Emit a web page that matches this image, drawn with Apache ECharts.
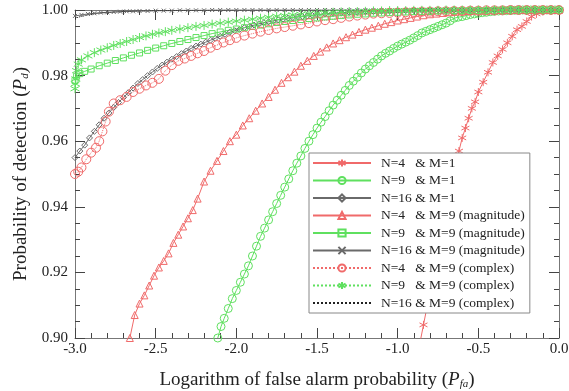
<!DOCTYPE html>
<html>
<head>
<meta charset="utf-8">
<script src="https://cdn.jsdelivr.net/npm/echarts@6/dist/echarts.min.js"></script>
<style>
html, body { margin: 0; padding: 0; background: #fff; }
#main { width: 569px; height: 391px; }
</style>
</head>
<body>
<div id="main"></div>
<script>
// x = log10(Pfa), y = Pd
var xTicks = [-3.0, -2.5, -2.0, -1.5, -1.0, -0.5, 0.0];
var yTicks = [0.90, 0.92, 0.94, 0.96, 0.98, 1.00];

var seriesNames = [
    'N=4   & M=1',
    'N=9   & M=1',
    'N=16 & M=1',
    'N=4   & M=9 (magnitude)',
    'N=9   & M=9 (magnitude)',
    'N=16 & M=9 (magnitude)',
    'N=4   & M=9 (complex)',
    'N=9   & M=9 (complex)',
    'N=16 & M=9 (complex)'
];

var n4m1 = [[-0.86,0.899],[-0.84,0.904],[-0.82,0.909],[-0.80,0.914],[-0.78,0.919],[-0.76,0.924],[-0.74,0.929],[-0.72,0.934],[-0.70,0.939],[-0.68,0.944],[-0.66,0.949],[-0.64,0.953],[-0.62,0.957],[-0.60,0.961],[-0.58,0.964],[-0.56,0.967],[-0.54,0.970],[-0.52,0.972],[-0.50,0.975],[-0.47,0.978],[-0.44,0.981],[-0.41,0.984],[-0.38,0.986],[-0.35,0.988],[-0.32,0.990],[-0.29,0.992],[-0.26,0.994],[-0.23,0.995],[-0.20,0.9965],[-0.17,0.998],[-0.14,0.9988],[-0.10,0.9995],[-0.05,0.9999],[0.0,1.0]];

var n9m1 = [[-2.115,0.900],[-2.095,0.9035],[-2.075,0.906],[-2.05,0.909],[-2.025,0.912],[-2.00,0.9145],[-1.975,0.917],[-1.95,0.9195],[-1.925,0.922],[-1.90,0.925],[-1.875,0.928],[-1.85,0.931],[-1.825,0.9335],[-1.80,0.936],[-1.775,0.9385],[-1.75,0.941],[-1.725,0.9435],[-1.70,0.946],[-1.675,0.9485],[-1.65,0.951],[-1.625,0.9533],[-1.60,0.9555],[-1.575,0.9578],[-1.55,0.960],[-1.525,0.962],[-1.50,0.964],[-1.475,0.9658],[-1.45,0.9675],[-1.425,0.9693],[-1.40,0.971],[-1.375,0.9725],[-1.35,0.974],[-1.325,0.9755],[-1.30,0.977],[-1.275,0.9783],[-1.25,0.9795],[-1.225,0.9808],[-1.20,0.982],[-1.175,0.983],[-1.15,0.984],[-1.125,0.985],[-1.10,0.986],[-1.075,0.9868],[-1.05,0.9875],[-1.025,0.9883],[-1.00,0.989],[-0.975,0.9896],[-0.95,0.9902],[-0.925,0.9908],[-0.90,0.9915],[-0.875,0.9922],[-0.85,0.993],[-0.825,0.9935],[-0.80,0.994],[-0.775,0.9945],[-0.75,0.995],[-0.725,0.9955],[-0.70,0.996],[-0.675,0.9967],[-0.65,0.9975],[-0.625,0.9978],[-0.60,0.998],[-0.575,0.9983],[-0.55,0.9986],[-0.525,0.9988],[-0.50,0.999],[-0.475,0.9992],[-0.45,0.9993],[-0.425,0.9995],[-0.40,0.9996],[-0.375,0.9997],[-0.35,0.9998],[-0.325,0.9998],[-0.30,0.9999],[-0.275,0.9999],[-0.25,0.9999],[-0.225,1.0],[-0.20,1.0],[-0.175,1.0],[-0.15,1.0],[-0.125,1.0],[-0.10,1.0],[-0.075,1.0],[-0.05,1.0],[-0.025,1.0],[0.0,1.0]];

var n16m1 = [[-3.00,0.955],[-2.97,0.957],[-2.94,0.9588],[-2.91,0.961],[-2.88,0.963],[-2.85,0.965],[-2.82,0.967],[-2.79,0.9686],[-2.76,0.9703],[-2.73,0.9718],[-2.70,0.9733],[-2.67,0.9748],[-2.64,0.9762],[-2.61,0.9776],[-2.58,0.9788],[-2.55,0.980],[-2.52,0.9811],[-2.49,0.9822],[-2.46,0.9832],[-2.43,0.9841],[-2.40,0.985],[-2.37,0.9858],[-2.34,0.9867],[-2.31,0.9875],[-2.28,0.9883],[-2.25,0.989],[-2.22,0.9896],[-2.19,0.9902],[-2.16,0.9908],[-2.13,0.9914],[-2.10,0.992],[-2.07,0.9926],[-2.04,0.9932],[-2.01,0.9937],[-1.98,0.9941],[-1.95,0.9946],[-1.92,0.995],[-1.89,0.9954],[-1.86,0.9958],[-1.83,0.9961],[-1.80,0.9964],[-1.77,0.9967],[-1.74,0.997],[-1.71,0.9972],[-1.68,0.9975],[-1.65,0.9977],[-1.62,0.9979],[-1.59,0.998],[-1.56,0.9982],[-1.53,0.9984],[-1.50,0.9986],[-1.45,0.9988],[-1.40,0.999],[-1.35,0.9992],[-1.30,0.9993],[-1.25,0.9994],[-1.20,0.9995],[-1.15,0.9996],[-1.10,0.9997],[-1.05,0.9997],[-1.00,0.9998],[-0.95,0.9998],[-0.90,0.9999],[-0.85,0.9999],[-0.80,0.9999],[-0.75,1.0],[-0.70,1.0],[-0.65,1.0],[-0.60,1.0],[-0.55,1.0],[-0.50,1.0],[-0.45,1.0],[-0.40,1.0],[-0.35,1.0],[-0.30,1.0],[-0.25,1.0],[-0.20,1.0],[-0.15,1.0],[-0.10,1.0],[-0.05,1.0],[0.0,1.0]];

var n4m9mag = [[-2.66,0.900],[-2.63,0.907],[-2.60,0.9105],[-2.57,0.913],[-2.54,0.916],[-2.51,0.919],[-2.48,0.9215],[-2.45,0.9235],[-2.42,0.9258],[-2.39,0.929],[-2.36,0.9315],[-2.33,0.934],[-2.30,0.9365],[-2.27,0.939],[-2.24,0.9425],[-2.20,0.9477],[-2.16,0.951],[-2.12,0.954],[-2.08,0.957],[-2.04,0.960],[-2.00,0.962],[-1.96,0.9648],[-1.92,0.967],[-1.88,0.9693],[-1.84,0.9715],[-1.80,0.9735],[-1.76,0.9757],[-1.72,0.9778],[-1.68,0.9795],[-1.64,0.9812],[-1.60,0.983],[-1.56,0.9845],[-1.52,0.986],[-1.48,0.9873],[-1.44,0.9886],[-1.40,0.9898],[-1.36,0.9908],[-1.32,0.9917],[-1.28,0.9925],[-1.24,0.9933],[-1.20,0.994],[-1.16,0.9946],[-1.12,0.9952],[-1.08,0.9958],[-1.04,0.9963],[-1.00,0.9968],[-0.96,0.9972],[-0.92,0.9976],[-0.88,0.998],[-0.84,0.9984],[-0.80,0.9987],[-0.76,0.9989],[-0.72,0.9991],[-0.68,0.9993],[-0.64,0.9995],[-0.60,0.9996],[-0.56,0.9997],[-0.52,0.9998],[-0.48,0.9998],[-0.44,0.9999],[-0.40,0.9999],[-0.36,1.0],[-0.32,1.0],[-0.28,1.0],[-0.24,1.0],[-0.20,1.0],[-0.16,1.0],[-0.12,1.0],[-0.08,1.0],[-0.04,1.0],[0.0,1.0]];

var n9m9mag = [[-3.00,0.9785],[-2.99,0.9798],[-2.97,0.9806],[-2.94,0.9813],[-2.90,0.982],[-2.85,0.983],[-2.80,0.9838],[-2.75,0.9846],[-2.70,0.9854],[-2.65,0.9862],[-2.60,0.9869],[-2.55,0.9877],[-2.50,0.9884],[-2.45,0.9891],[-2.40,0.9898],[-2.35,0.9904],[-2.30,0.991],[-2.25,0.9916],[-2.20,0.9922],[-2.15,0.9928],[-2.10,0.9933],[-2.05,0.9938],[-2.00,0.9942],[-1.95,0.9946],[-1.90,0.995],[-1.85,0.9954],[-1.80,0.9958],[-1.75,0.9962],[-1.70,0.9965],[-1.65,0.9968],[-1.60,0.9971],[-1.55,0.9974],[-1.50,0.9976],[-1.45,0.9979],[-1.40,0.9981],[-1.35,0.9983],[-1.30,0.9985],[-1.25,0.9987],[-1.20,0.9988],[-1.15,0.999],[-1.10,0.9991],[-1.05,0.9992],[-1.00,0.9993],[-0.95,0.9994],[-0.90,0.9995],[-0.85,0.9995],[-0.80,0.9996],[-0.75,0.9997],[-0.70,0.9997],[-0.65,0.9998],[-0.60,0.9998],[-0.55,0.9999],[-0.50,0.9999],[-0.45,0.9999],[-0.40,1.0],[-0.35,1.0],[-0.30,1.0],[-0.25,1.0],[-0.20,1.0],[-0.15,1.0],[-0.10,1.0],[-0.05,1.0],[0.0,1.0]];

var n16m9mag = [[-3.00,0.9982],[-2.96,0.9985],[-2.92,0.9988],[-2.88,0.999],[-2.84,0.9992],[-2.80,0.9993],[-2.76,0.9994],[-2.72,0.9995],[-2.68,0.9996],[-2.64,0.9996],[-2.60,0.9997],[-2.55,0.9997],[-2.50,0.9998],[-2.45,0.9998],[-2.40,0.9998],[-2.35,0.9999],[-2.30,0.9999],[-2.25,0.9999],[-2.20,0.9999],[-2.15,1.0],[-2.10,1.0],[-2.05,1.0],[-2.00,1.0],[-1.95,1.0],[-1.90,1.0],[-1.85,1.0],[-1.80,1.0],[-1.75,1.0],[-1.70,1.0],[-1.65,1.0],[-1.60,1.0],[-1.55,1.0],[-1.50,1.0],[-1.45,1.0],[-1.40,1.0],[-1.35,1.0],[-1.30,1.0],[-1.25,1.0],[-1.20,1.0],[-1.15,1.0],[-1.10,1.0],[-1.05,1.0],[-1.00,1.0],[-0.95,1.0],[-0.90,1.0],[-0.85,1.0],[-0.80,1.0],[-0.75,1.0],[-0.70,1.0],[-0.65,1.0],[-0.60,1.0],[-0.55,1.0],[-0.50,1.0],[-0.45,1.0],[-0.40,1.0],[-0.35,1.0],[-0.30,1.0],[-0.25,1.0],[-0.20,1.0],[-0.15,1.0],[-0.10,1.0],[-0.05,1.0],[0.0,1.0]];

var n4m9cpx = [[-3.00,0.950],[-2.98,0.9507],[-2.96,0.952],[-2.93,0.9545],[-2.90,0.9565],[-2.87,0.958],[-2.85,0.960],[-2.83,0.963],[-2.81,0.966],[-2.79,0.969],[-2.76,0.9715],[-2.72,0.9725],[-2.68,0.9735],[-2.64,0.975],[-2.60,0.976],[-2.56,0.977],[-2.52,0.9778],[-2.48,0.979],[-2.44,0.9815],[-2.40,0.9832],[-2.36,0.9845],[-2.32,0.9852],[-2.28,0.986],[-2.24,0.9868],[-2.20,0.9875],[-2.16,0.9885],[-2.12,0.9893],[-2.08,0.9901],[-2.04,0.9908],[-2.00,0.9915],[-1.95,0.9922],[-1.90,0.9928],[-1.85,0.9934],[-1.80,0.9939],[-1.75,0.9944],[-1.70,0.9948],[-1.65,0.9952],[-1.60,0.9956],[-1.55,0.996],[-1.50,0.9965],[-1.45,0.9969],[-1.40,0.9972],[-1.35,0.9976],[-1.30,0.998],[-1.25,0.9983],[-1.20,0.9986],[-1.15,0.9989],[-1.10,0.999],[-1.05,0.9991],[-1.00,0.9992],[-0.95,0.9993],[-0.90,0.9994],[-0.85,0.9995],[-0.80,0.9995],[-0.75,0.9996],[-0.70,0.9996],[-0.65,0.9997],[-0.60,0.9997],[-0.55,0.9998],[-0.50,0.9998],[-0.45,0.9999],[-0.40,0.9999],[-0.35,0.9999],[-0.30,1.0],[-0.25,1.0],[-0.20,1.0],[-0.15,1.0],[-0.10,1.0],[-0.05,1.0],[0.0,1.0]];

var n9m9cpx = [[-3.00,0.976],[-2.998,0.9775],[-2.995,0.979],[-2.99,0.9815],[-2.98,0.9835],[-2.96,0.9848],[-2.92,0.986],[-2.88,0.987],[-2.84,0.9878],[-2.80,0.9885],[-2.76,0.9892],[-2.72,0.9898],[-2.68,0.9904],[-2.64,0.991],[-2.60,0.9916],[-2.56,0.9921],[-2.52,0.9926],[-2.48,0.993],[-2.44,0.9934],[-2.40,0.9938],[-2.35,0.9942],[-2.30,0.9946],[-2.25,0.995],[-2.20,0.9953],[-2.15,0.9957],[-2.10,0.996],[-2.05,0.9963],[-2.00,0.9966],[-1.95,0.9969],[-1.90,0.9972],[-1.85,0.9975],[-1.80,0.9978],[-1.75,0.9981],[-1.70,0.9983],[-1.65,0.9985],[-1.60,0.9987],[-1.55,0.9989],[-1.50,0.999],[-1.45,0.9992],[-1.40,0.9993],[-1.35,0.9994],[-1.30,0.9995],[-1.25,0.9995],[-1.20,0.9996],[-1.15,0.9997],[-1.10,0.9997],[-1.05,0.9998],[-1.00,0.9998],[-0.95,0.9998],[-0.90,0.9999],[-0.85,0.9999],[-0.80,0.9999],[-0.75,0.9999],[-0.70,1.0],[-0.65,1.0],[-0.60,1.0],[-0.55,1.0],[-0.50,1.0],[-0.45,1.0],[-0.40,1.0],[-0.35,1.0],[-0.30,1.0],[-0.25,1.0],[-0.20,1.0],[-0.15,1.0],[-0.10,1.0],[-0.05,1.0],[0.0,1.0]];

var n16m9cpx = [[-3.00,0.9975],[-2.95,0.9982],[-2.90,0.9987],[-2.85,0.999],[-2.80,0.9992],[-2.70,0.9995],[-2.60,0.9997],[-2.50,0.9998],[-2.30,0.9999],[-2.00,1.0],[-1.50,1.0],[-1.00,1.0],[-0.50,1.0],[0.0,1.0]];

var RED = '#f06a6a';
var GREEN = '#5fe05f';
var GRAY = '#6a6a6a';
var FONT = '"Liberation Serif", "DejaVu Serif", serif';

var asterisk = 'path://M0,-10L0,10M-8.66,-5L8.66,5M-8.66,5L8.66,-5';
var cross = 'path://M-5,-5L5,5M-5,5L5,-5';

// marks: null means plain line, no symbols
function line(name, data, color, symbol, size, dashed) {
    var plain = symbol === null;
    return {
        name: name,
        type: 'line',
        data: data,
        symbol: plain ? 'circle' : symbol,
        symbolSize: plain ? 1 : size,
        showSymbol: !plain,
        animation: false,
        lineStyle: { color: color, width: 1, type: dashed ? 'dotted' : 'solid' },
        itemStyle: { color: 'rgba(0,0,0,0)', borderColor: plain ? 'rgba(0,0,0,0)' : color, borderWidth: plain ? 0 : 1 }
    };
}

var chart = echarts.init(document.getElementById('main'));

var richName = {
    p: { fontFamily: FONT, fontSize: 19, fontStyle: 'italic', color: '#222' },
    s: { fontFamily: FONT, fontSize: 11, fontStyle: 'italic', color: '#222', padding: [9, 0, 0, 0] }
};

var option = {
    backgroundColor: '#fff',
    animation: false,
    grid: { left: 75, right: 10, top: 10, bottom: 53, outerBoundsMode: 'none' },
    legend: {
        orient: 'vertical',
        left: 309,
        top: 153,
        itemWidth: 58,
        itemHeight: 9,
        itemGap: 3.5,
        padding: [3, 5, 3, 3],
        borderColor: '#888',
        borderWidth: 1,
        backgroundColor: '#fff',
        textStyle: { fontFamily: FONT, fontSize: 13.5, color: '#222', padding: [0, 0, 0, 5] },
        data: seriesNames
    },
    xAxis: [{
        type: 'value',
        min: -3,
        max: 0,
        interval: 0.5,
        position: 'bottom',
        name: 'Logarithm of false alarm probability ({p|P}{s|fa})',
        nameLocation: 'middle',
        nameGap: 32,
        nameTextStyle: { fontFamily: FONT, fontSize: 19, color: '#222', rich: richName },
        axisLine: { onZero: false, lineStyle: { color: '#777' } },
        axisTick: { inside: true, length: 10, lineStyle: { color: '#444' } },
        minorTick: { show: true, splitNumber: 5, length: 5, lineStyle: { color: '#444' } },
        splitLine: { show: false },
        axisLabel: {
            margin: 4, fontFamily: FONT, fontSize: 15, color: '#222',
            formatter: function (v) { return v.toFixed(1); }
        }
    }, {
        type: 'value',
        min: -3,
        max: 0,
        interval: 0.5,
        position: 'top',
        axisLine: { onZero: false, lineStyle: { color: '#777' } },
        axisTick: { inside: true, length: 10, lineStyle: { color: '#444' } },
        minorTick: { show: true, splitNumber: 5, length: 5, lineStyle: { color: '#444' } },
        splitLine: { show: false },
        axisLabel: { show: false }
    }],
    yAxis: [{
        type: 'value',
        min: 0.9,
        max: 1.0,
        interval: 0.02,
        position: 'left',
        name: 'Probability of detection ({p|P}{s|d})',
        nameLocation: 'middle',
        nameGap: 38,
        nameTextStyle: { fontFamily: FONT, fontSize: 19, color: '#222', rich: richName },
        axisLine: { onZero: false, lineStyle: { color: '#777' } },
        axisTick: { inside: true, length: 10, lineStyle: { color: '#444' } },
        minorTick: { show: true, splitNumber: 4, length: 5, lineStyle: { color: '#444' } },
        splitLine: { show: false },
        axisLabel: {
            margin: 7, fontFamily: FONT, fontSize: 15, color: '#222',
            formatter: function (v) { return v.toFixed(2); }
        }
    }, {
        type: 'value',
        min: 0.9,
        max: 1.0,
        interval: 0.02,
        position: 'right',
        axisLine: { onZero: false, lineStyle: { color: '#777' } },
        axisTick: { inside: true, length: 10, lineStyle: { color: '#444' } },
        minorTick: { show: true, splitNumber: 4, length: 5, lineStyle: { color: '#444' } },
        splitLine: { show: false },
        axisLabel: { show: false }
    }],
    series: [
        line(seriesNames[0], n4m1, RED, asterisk, 8, false),
        line(seriesNames[1], n9m1, GREEN, 'circle', 8, false),
        line(seriesNames[2], n16m1, GRAY, 'diamond', 6, false),
        line(seriesNames[3], n4m9mag, RED, 'triangle', 7, false),
        line(seriesNames[4], n9m9mag, GREEN, 'rect', 6, false),
        line(seriesNames[5], n16m9mag, GRAY, cross, 4, false),
        line(seriesNames[6], n4m9cpx, RED, 'circle', 9, true),
        line(seriesNames[7], n9m9cpx, GREEN, asterisk, 9, true),
        line(seriesNames[8], n16m9cpx, '#222', null, 1, true)
    ]
};

chart.setOption(option);
</script>
</body>
</html>
